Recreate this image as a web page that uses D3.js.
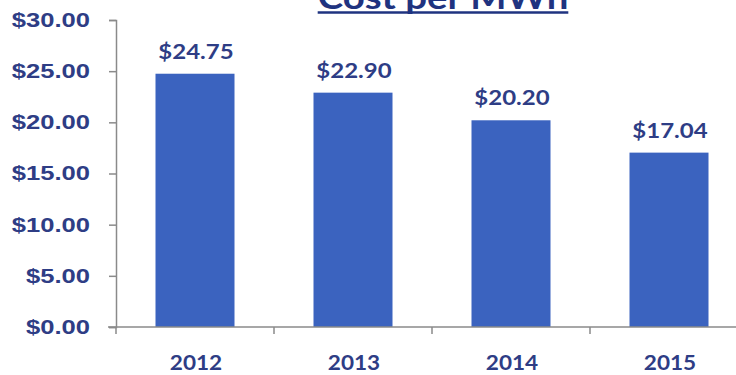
<!DOCTYPE html>
<html>
<head>
<meta charset="utf-8">
<script src="https://cdn.jsdelivr.net/npm/d3@7"></script>
<style>
  body { margin: 0; background: #fff; }
  svg { display: block; font-family: Lato, "Open Sans", sans-serif; }
</style>
</head>
<body>
<div id="chart"></div>
<script>
const years = ["2012", "2013", "2014", "2015"];
const costs = [24.75, 22.90, 20.20, 17.04];
const yTicks = [0, 5, 10, 15, 20, 25, 30];
const title = "Cost per MWh";

const width = 736, height = 375;
const textColor = "#2e3d85";
const barColor = "#3b63bf";
const axisColor = "#8a8a8a";

const svg = d3.select("#chart").append("svg")
    .attr("width", width)
    .attr("height", height);

const x = d3.scaleBand()
    .domain(years)
    .range([116, 748])
    .paddingInner(0.5)
    .paddingOuter(0.25);

const y = d3.scaleLinear()
    .domain([0, 30])
    .range([327, 20]);

const fmt = d3.format("$.2f");

// the source text looks horizontally stretched, so widen the glyphs a bit
const stretch = (sel, k, px, py) =>
    sel.attr("x", 0).attr("y", 0)
       .attr("transform", (d, i) => `translate(${px(d, i)},${py(d, i)}) scale(${k},1)`);

// y axis
const yAxis = svg.append("g")
    .attr("transform", "translate(116,0)")
    .call(d3.axisLeft(y).tickValues(yTicks).tickFormat(fmt).tickSize(7));
yAxis.select(".domain").attr("stroke", axisColor).attr("stroke-width", 1.5);
yAxis.selectAll(".tick line").attr("stroke", axisColor).attr("stroke-width", 1.5);
yAxis.selectAll(".tick text")
    .attr("fill", textColor)
    .style("font-size", "20px")
    .style("font-weight", "bold")
    .call(stretch, 1.28, () => -26, () => 0);

// bars
svg.selectAll(".bar")
    .data(years)
    .join("rect")
    .attr("class", "bar")
    .attr("x", d => x(d))
    .attr("y", (d, i) => y(costs[i]))
    .attr("width", x.bandwidth())
    .attr("height", (d, i) => y(0) - y(costs[i]))
    .attr("fill", barColor);

// value labels
svg.selectAll(".val")
    .data(years)
    .join("text")
    .attr("class", "val")
    .attr("text-anchor", "middle")
    .attr("fill", textColor)
    .style("font-size", "20px")
    .style("font-weight", "bold")
    .text((d, i) => fmt(costs[i]))
    .call(stretch, 1.2, d => x(d) + x.bandwidth() / 2 + 1, (d, i) => y(costs[i]) - 15);

// x axis: line with ticks at category boundaries
const xg = svg.append("g").attr("transform", `translate(0,${y(0)})`);
xg.append("line")
    .attr("x1", 108).attr("x2", 748)
    .attr("stroke", axisColor).attr("stroke-width", 1.5);
const step = x.step();
const bounds = years.map(d => x(d) - x.paddingOuter() * step).concat([748]);
xg.selectAll(".xtick")
    .data(bounds)
    .join("line")
    .attr("x1", d => d).attr("x2", d => d)
    .attr("y1", 0).attr("y2", 7)
    .attr("stroke", axisColor).attr("stroke-width", 1.5);
xg.selectAll(".xlab")
    .data(years)
    .join("text")
    .attr("text-anchor", "middle")
    .attr("fill", textColor)
    .style("font-size", "20px")
    .style("font-weight", "bold")
    .text(d => d)
    .call(stretch, 1.13, d => x(d) + x.bandwidth() / 2 + 1, () => 43);

// title (cut off at top), underline drawn by hand
const t = svg.append("text")
    .attr("text-anchor", "middle")
    .attr("fill", "#1f3380")
    .style("font-size", "32px")
    .style("font-weight", "bold")
    .text(title)
    .call(stretch, 1.2, () => 443, () => 9);
const tw = t.node().getComputedTextLength() * 1.2;
svg.append("line")
    .attr("x1", 443 - tw / 2).attr("x2", 443 + tw / 2)
    .attr("y1", 12.5).attr("y2", 12.5)
    .attr("stroke", "#1f3380").attr("stroke-width", 2.5);
</script>
</body>
</html>
